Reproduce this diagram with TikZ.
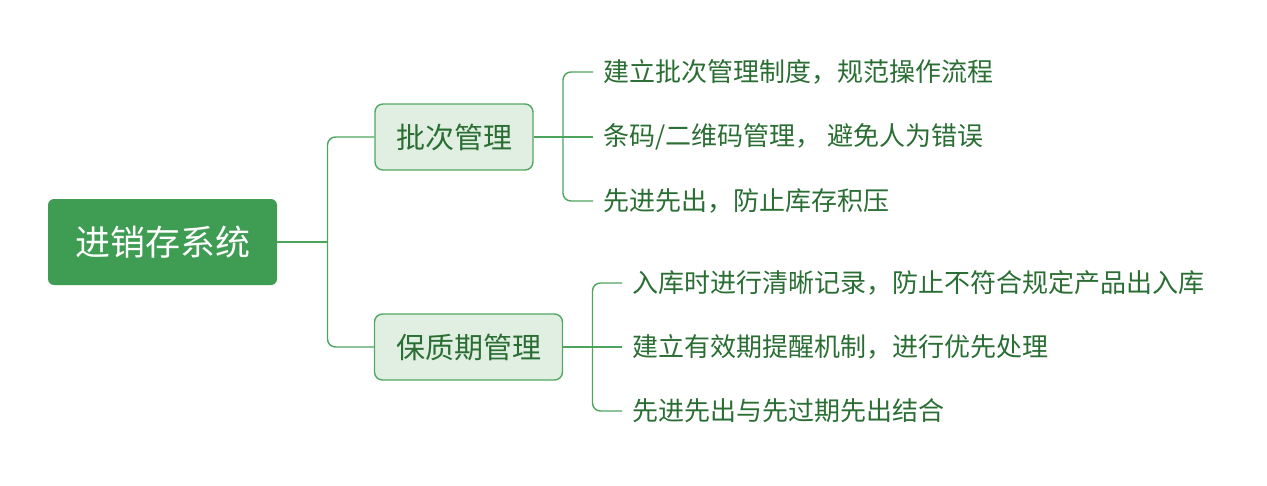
\documentclass[tikz,border=0pt]{standalone}
\usepackage{fontspec}
\setmainfont{Noto Sans CJK SC}
\definecolor{rootfill}{HTML}{3F9C53}
\definecolor{subfill}{HTML}{E1EFE3}
\definecolor{subdraw}{HTML}{52A862}
\definecolor{txt}{HTML}{2A6E34}
\definecolor{linec}{HTML}{4DA55D}
\begin{document}
\begin{tikzpicture}[x=1pt,y=-1pt,
  rootbox/.style={fill=rootfill, draw=none, rounded corners=6pt, text=white,
    font=\fontsize{35}{40}\selectfont, minimum width=229pt, minimum height=86pt, inner sep=0pt},
  subbox/.style={fill=subfill, draw=subdraw, line width=1.4pt, rounded corners=8pt, text=txt,
    font=\fontsize{29}{34}\selectfont, minimum height=66pt, inner sep=0pt},
  leaf/.style={anchor=west, text=txt, font=\fontsize{26}{30}\selectfont, inner xsep=10pt, inner ysep=0pt},
  conn/.style={draw=linec, line width=1.4pt, rounded corners=8pt}]
\useasboundingbox (0,0) rectangle (1267,485);
\node[rootbox] (r) at (162.5,242) {进销存系统};
\node[subbox, minimum width=158pt] (b1) at (454,137) {批次管理};
\node[subbox, minimum width=188pt] (b2) at (468.5,347) {保质期管理};
\coordinate (f0) at (327.5,242);
\coordinate (f1) at (563,137);
\coordinate (f2) at (592.5,347);
\node[leaf] (c11) at (593,72) {建立批次管理制度，规范操作流程};
\node[leaf] (c12) at (593,137) {条码/二维码管理， 避免人为错误};
\node[leaf] (c13) at (593,201) {先进先出，防止库存积压};
\node[leaf] (c21) at (622,283) {入库时进行清晰记录，防止不符合规定产品出入库};
\node[leaf] (c22) at (622,347) {建立有效期提醒机制，进行优先处理};
\node[leaf] (c23) at (622,411) {先进先出与先过期先出结合};
\draw[conn] (r.east) -- (f0);
\draw[conn] (f0) |- (b1.west);
\draw[conn] (f0) |- (b2.west);
\draw[conn] (b1.east) -- (f1);
\draw[conn] (f1) |- (c11.west);
\draw[conn] (f1) -- (c12.west);
\draw[conn] (f1) |- (c13.west);
\draw[conn] (b2.east) -- (f2);
\draw[conn] (f2) |- (c21.west);
\draw[conn] (f2) -- (c22.west);
\draw[conn] (f2) |- (c23.west);
\end{tikzpicture}
\end{document}
